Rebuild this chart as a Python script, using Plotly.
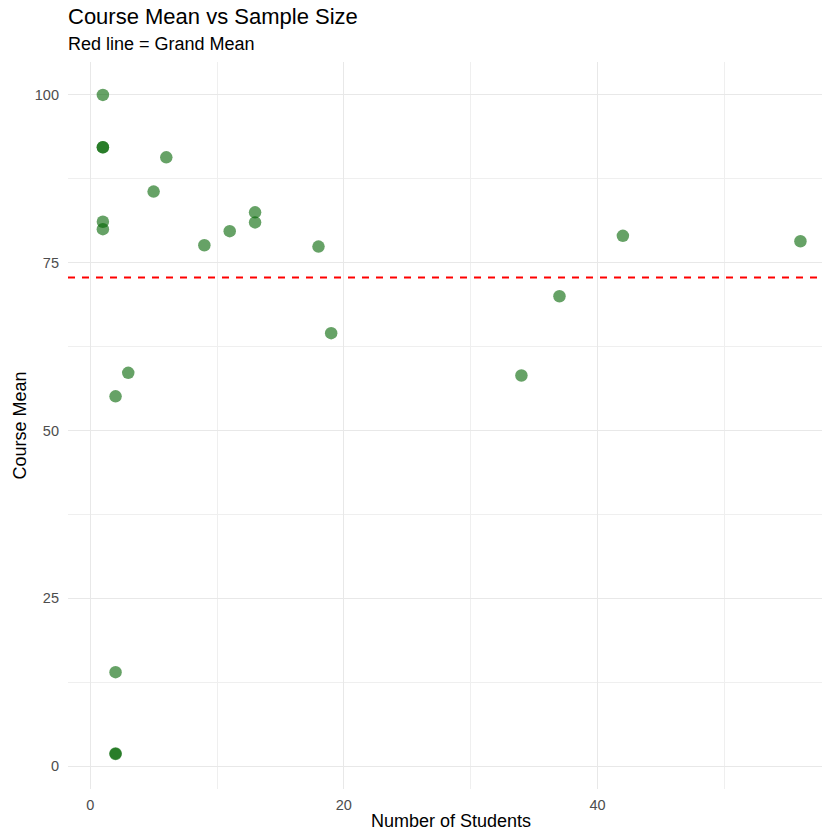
import plotly.graph_objects as go

# Data
students = [1, 1, 1, 1, 1, 2, 3, 5, 6, 9, 11, 13, 13, 18, 19, 34, 37, 42, 56, 2, 2, 2]
course_means = [100.0, 92.2, 92.2, 81.1, 80.0, 55.1, 58.6, 85.6, 90.7, 77.6, 79.7,
                82.5, 81.0, 77.4, 64.5, 58.2, 70.0, 79.0, 78.2, 14.0, 1.8, 1.9]
grand_mean = 72.8
x_ticks = [0, 20, 40]
y_ticks = [0, 25, 50, 75, 100]

title = "Course Mean vs Sample Size"
subtitle = "Red line = Grand Mean"
x_title = "Number of Students"
y_title = "Course Mean"

FONT = "Liberation Sans, Arial, sans-serif"
W, H = 822, 831
ML, MR, MT, MB = 68, 0, 62, 42
PW = W - ML - MR
PH = H - MT - MB

fig = go.Figure()
fig.add_trace(go.Scatter(
    x=students, y=course_means, mode="markers",
    marker=dict(size=12.5, color="rgba(0,100,0,0.6)", line=dict(width=0)),
    showlegend=False, hoverinfo="x+y",
))

fig.add_shape(type="line", xref="paper", x0=0, x1=1, yref="y",
              y0=grand_mean, y1=grand_mean,
              line=dict(color="#ff0000", width=1.8, dash="7px,7px"), layer="above")

axis_common = dict(
    showline=False, zeroline=False, ticks="",
    gridcolor="#e8e8e8", gridwidth=1.2,
    tickfont=dict(family=FONT, size=14.5, color="#4d4d4d"),
)

fig.update_xaxes(range=[-1.75, 57.7], tickvals=x_ticks,
                 minor=dict(tickvals=[10, 30, 50], showgrid=True,
                            gridcolor="#efefef", gridwidth=1),
                 ticklabelstandoff=5, **axis_common)
fig.update_yaxes(range=[-3.4, 104.9], tickvals=y_ticks,
                 minor=dict(tickvals=[12.5, 37.5, 62.5, 87.5], showgrid=True,
                            gridcolor="#efefef", gridwidth=1),
                 ticklabelstandoff=8, **axis_common)

annotations = [
    dict(text=title, xref="paper", yref="paper", x=-0.003, y=1 + (MT - 16) / PH,
         xanchor="left", yanchor="middle", showarrow=False,
         font=dict(family=FONT, size=22, color="black")),
    dict(text=subtitle, xref="paper", yref="paper", x=-0.003, y=1 + (MT - 44) / PH,
         xanchor="left", yanchor="middle", showarrow=False,
         font=dict(family=FONT, size=18, color="black")),
    dict(text=x_title, xref="paper", yref="paper", x=(451.5 - ML) / PW,
         y=-(821 - (MT + PH)) / PH, xanchor="center", yanchor="middle",
         showarrow=False, font=dict(family=FONT, size=18, color="black")),
    dict(text=y_title, xref="paper", yref="paper", x=-(ML - 19) / PW, y=0.5,
         xanchor="center", yanchor="middle", textangle=-90,
         showarrow=False, font=dict(family=FONT, size=18, color="black")),
]

fig.update_layout(
    width=W, height=H,
    margin=dict(l=ML, r=MR, t=MT, b=MB, pad=0),
    paper_bgcolor="white", plot_bgcolor="white",
    annotations=annotations,
    font=dict(family=FONT),
)

fig.write_html(
    "out.html",
    config={"displayModeBar": False},
    post_script="document.body.style.margin='0';document.body.style.overflow='hidden';",
)
